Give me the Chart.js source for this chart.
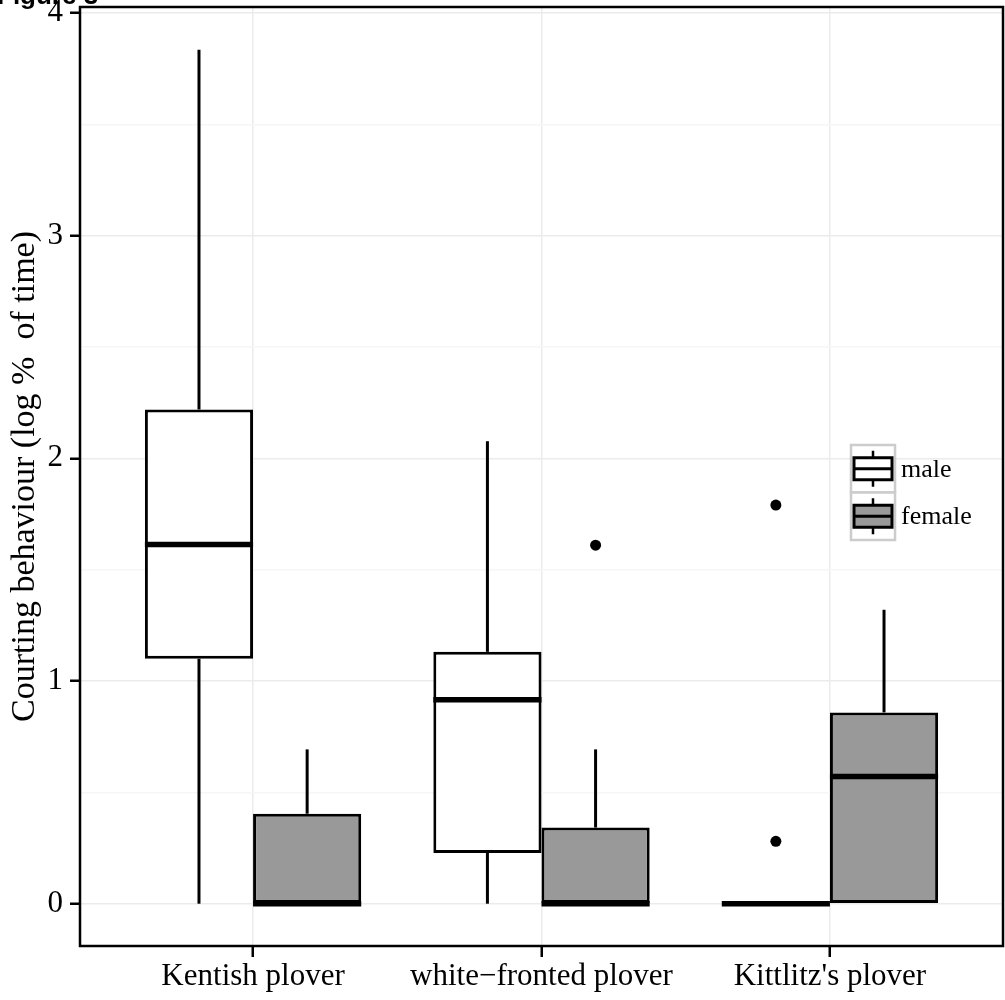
<!DOCTYPE html>
<html>
<head>
<meta charset="utf-8">
<script src="https://cdn.jsdelivr.net/npm/chart.js@4/dist/chart.umd.min.js"></script>
<style>
html,body{margin:0;padding:0;background:#fff;}
#wrap{width:1005px;height:1000px;position:relative;}
</style>
</head>
<body>
<div id="wrap"><canvas id="c" width="1005" height="1000"></canvas></div>
<script>
// ---- data ----
const categories = ['Kentish plover', 'white\u2212fronted plover', "Kittlitz's plover"];
const seriesNames = ['male', 'female'];
const seriesFill = ['#ffffff', '#999999'];

const maleLow     = [0, 0, 0];
const maleQ1      = [1.10, 0.228, 0];
const maleMedian  = [1.613, 0.916, 0];
const maleQ3      = [2.219, 1.131, 0];
const maleHigh    = [3.835, 2.077, 0];
const maleOutliers = [[], [], [0.28, 1.79]];

const femaleLow     = [0, 0, 0];
const femaleQ1      = [0, 0, 0];
const femaleMedian  = [0, 0, 0.571];
const femaleQ3      = [0.404, 0.342, 0.859];
const femaleHigh    = [0.693, 0.693, 1.32];
const femaleOutliers = [[], [1.61], []];

const yTickValues = [0, 0.5, 1, 1.5, 2, 2.5, 3, 3.5, 4];
const yMin = -0.19, yMax = 4.027;
const xMin = 0.4, xMax = 3.6;

const stats = [
  {lo: maleLow, q1: maleQ1, med: maleMedian, q3: maleQ3, hi: maleHigh, out: maleOutliers},
  {lo: femaleLow, q1: femaleQ1, med: femaleMedian, q3: femaleQ3, hi: femaleHigh, out: femaleOutliers}
];

const datasets = stats.map((s, di) => ({
  label: seriesNames[di],
  data: categories.map((_, i) => ({x: i + 1, y: [s.q1[i], s.q3[i]]})),
  backgroundColor: seriesFill[di],
  borderColor: '#000',
  borderWidth: 3,
  borderSkipped: false,
  barPercentage: 1,
  categoryPercentage: 0.75
}));

const serif = 'Liberation Serif, Times New Roman, serif';

function line(ctx, x1, y1, x2, y2) {
  ctx.beginPath(); ctx.moveTo(x1, y1); ctx.lineTo(x2, y2); ctx.stroke();
}

const boxPlugin = {
  id: 'boxParts',
  beforeDatasetsDraw(chart) {
    const ctx = chart.ctx, y = chart.scales.y;
    ctx.save();
    ctx.strokeStyle = '#000'; ctx.lineWidth = 3; ctx.lineCap = 'butt';
    stats.forEach((s, di) => {
      chart.getDatasetMeta(di).data.forEach((bar, i) => {
        const cx = bar.x;
        if (s.hi[i] > s.q3[i]) line(ctx, cx, y.getPixelForValue(s.q3[i]), cx, y.getPixelForValue(s.hi[i]));
        if (s.lo[i] < s.q1[i]) line(ctx, cx, y.getPixelForValue(s.lo[i]), cx, y.getPixelForValue(s.q1[i]));
      });
    });
    ctx.restore();
  },
  afterDatasetsDraw(chart) {
    const ctx = chart.ctx, y = chart.scales.y;
    ctx.save();
    stats.forEach((s, di) => {
      chart.getDatasetMeta(di).data.forEach((bar, i) => {
        const cx = bar.x, half = bar.width / 2;
        const ym = y.getPixelForValue(s.med[i]);
        ctx.strokeStyle = '#000'; ctx.lineWidth = 5.5; ctx.lineCap = 'butt';
        line(ctx, cx - half, ym, cx + half, ym);
        ctx.fillStyle = '#000';
        s.out[i].forEach(v => {
          ctx.beginPath(); ctx.arc(cx, y.getPixelForValue(v), 5.5, 0, Math.PI * 2); ctx.fill();
        });
      });
    });
    ctx.restore();
  },
  afterDraw(chart) {
    const ctx = chart.ctx, a = chart.chartArea;
    ctx.save();
    // panel border
    ctx.strokeStyle = '#000'; ctx.lineWidth = 2.5;
    ctx.strokeRect(a.left, a.top, a.right - a.left, a.bottom - a.top);
    // legend
    const lx = 851, ly = 445, kw = 44, kh = 47.5;
    seriesNames.forEach((name, k) => {
      const top = ly + k * kh;
      ctx.fillStyle = '#fff';
      ctx.fillRect(lx, top, kw, kh);
      ctx.strokeStyle = '#cccccc'; ctx.lineWidth = 2.5;
      ctx.strokeRect(lx, top, kw, kh);
      const cx = lx + kw / 2, cy = top + kh / 2;
      ctx.strokeStyle = '#000'; ctx.lineWidth = 2.5;
      line(ctx, cx, cy - 18, cx, cy + 18);
      ctx.fillStyle = seriesFill[k];
      ctx.fillRect(lx + 3, cy - 11, kw - 6, 22);
      ctx.lineWidth = 3;
      ctx.strokeRect(lx + 3, cy - 11, kw - 6, 22);
      ctx.lineWidth = 3;
      line(ctx, lx + 3, cy, lx + kw - 3, cy);
      ctx.fillStyle = '#000';
      ctx.font = '26px ' + serif;
      ctx.textAlign = 'left'; ctx.textBaseline = 'middle';
      ctx.fillText(name, lx + kw + 6, cy + 1);
    });
    // figure label (cut off at top)
    ctx.fillStyle = '#000';
    ctx.font = 'bold 26px Liberation Sans, Arial, sans-serif';
    ctx.textAlign = 'left'; ctx.textBaseline = 'alphabetic';
    ctx.fillText('Figure 3', -3, 4);
    ctx.restore();
  }
};

new Chart(document.getElementById('c'), {
  type: 'bar',
  data: {datasets},
  options: {
    responsive: false,
    animation: false,
    devicePixelRatio: 1,
    layout: {padding: {top: 7, right: 2, left: 0, bottom: 0}},
    plugins: {legend: {display: false}, tooltip: {enabled: false}},
    scales: {
      x: {
        type: 'linear', min: xMin, max: xMax, offset: false,
        afterBuildTicks: s => { s.ticks = categories.map((_, i) => ({value: i + 1})); },
        afterFit: s => { s.height = 54; s.paddingLeft = 0; s.paddingRight = 0; },
        ticks: {
          callback: v => categories[Math.round(v) - 1] || '',
          font: {family: serif, size: 31}, color: '#000',
          padding: 1, maxRotation: 0, autoSkip: false
        },
        grid: {offset: false, color: '#ebebeb', lineWidth: 1.5, tickColor: '#000', tickWidth: 2.5, tickLength: 11},
        border: {display: false}
      },
      y: {
        type: 'linear', min: yMin, max: yMax,
        afterBuildTicks: s => { s.ticks = yTickValues.map(v => ({value: v})); },
        afterFit: s => { s.width = 80; s.paddingTop = 0; s.paddingBottom = 0; },
        ticks: {
          callback: v => Number.isInteger(v) ? String(v) : '',
          font: {family: serif, size: 31}, color: '#000', padding: 7
        },
        grid: {
          offset: false,
          color: c => (c.tick && Number.isInteger(c.tick.value)) ? '#ebebeb' : '#f6f6f6',
          lineWidth: 1.5,
          tickColor: c => (c.tick && Number.isInteger(c.tick.value)) ? '#000' : 'rgba(0,0,0,0)',
          tickWidth: 2.5, tickLength: 10
        },
        border: {display: false},
        title: {
          display: true, text: 'Courting behaviour (log %  of time)',
          font: {family: serif, size: 34}, color: '#000',
          padding: {top: 5, bottom: 0}
        }
      }
    }
  },
  plugins: [boxPlugin]
});
</script>
</body>
</html>
